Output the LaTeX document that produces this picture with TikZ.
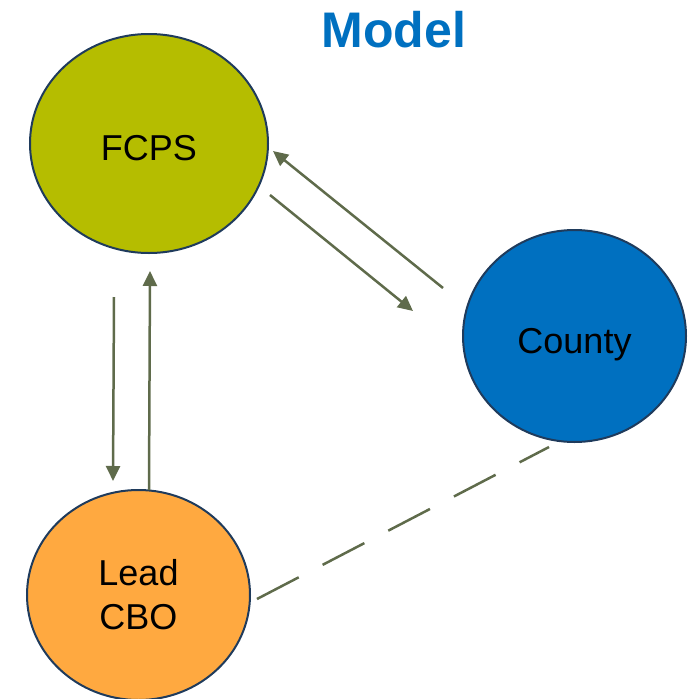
\documentclass[tikz,border=0pt]{standalone}
\usepackage{fontspec}
\setmainfont{Liberation Sans}
\usetikzlibrary{shapes.geometric,arrows.meta}
\definecolor{fcpsgreen}{HTML}{B5BD00}
\definecolor{countyblue}{HTML}{0070C0}
\definecolor{leadorange}{HTML}{FFA940}
\definecolor{rimnavy}{HTML}{1F3B5C}
\definecolor{arrowgray}{HTML}{5F6B4B}
\definecolor{titleblue}{HTML}{0070C0}
\tikzset{
  circ/.style={ellipse, draw=rimnavy, line width=2pt, inner sep=0pt,
    font=\fontsize{36}{44}\selectfont, align=center},
  oneline/.style={text height=34pt, text depth=0pt},
  link/.style={draw=arrowgray, line width=2.5pt,
    -{Triangle[length=15pt,width=14pt]}},
  dashlink/.style={draw=arrowgray, line width=2.5pt, dash pattern=on 47pt off 27pt}
}
\begin{document}
\begin{tikzpicture}[x=1pt,y=-1pt]
\useasboundingbox (0,0) rectangle (695,699);
\node[font=\fontsize{50}{58}\selectfont\bfseries, text=titleblue, anchor=base] (title) at (394,47) {Model};
\node[circ, oneline, fill=fcpsgreen, minimum width=238pt, minimum height=219pt] (fcps) at (149,143.5) {FCPS};
\node[circ, oneline, fill=countyblue, minimum width=223pt, minimum height=212pt] (county) at (574.5,336) {County};
\node[circ, fill=leadorange, minimum width=223pt, minimum height=210pt] (lead) at (138.5,595) {Lead\\CBO};
% arrow end points
\coordinate (a1s) at (443,288); \coordinate (a1e) at (273,151);
\coordinate (a2s) at (270,195); \coordinate (a2e) at (413,311);
\coordinate (a3s) at (114,297); \coordinate (a3e) at (113,481);
\coordinate (a4s) at (149,490); \coordinate (a4e) at (150,271);
\coordinate (d1) at (549,447); \coordinate (d2) at (257,599);
\draw[link] (a1s) -- (a1e);
\draw[link] (a2s) -- (a2e);
\draw[link] (a3s) -- (a3e);
\draw[link] (a4s) -- (a4e);
\draw[dashlink] (d2) -- (d1);
\end{tikzpicture}
\end{document}
